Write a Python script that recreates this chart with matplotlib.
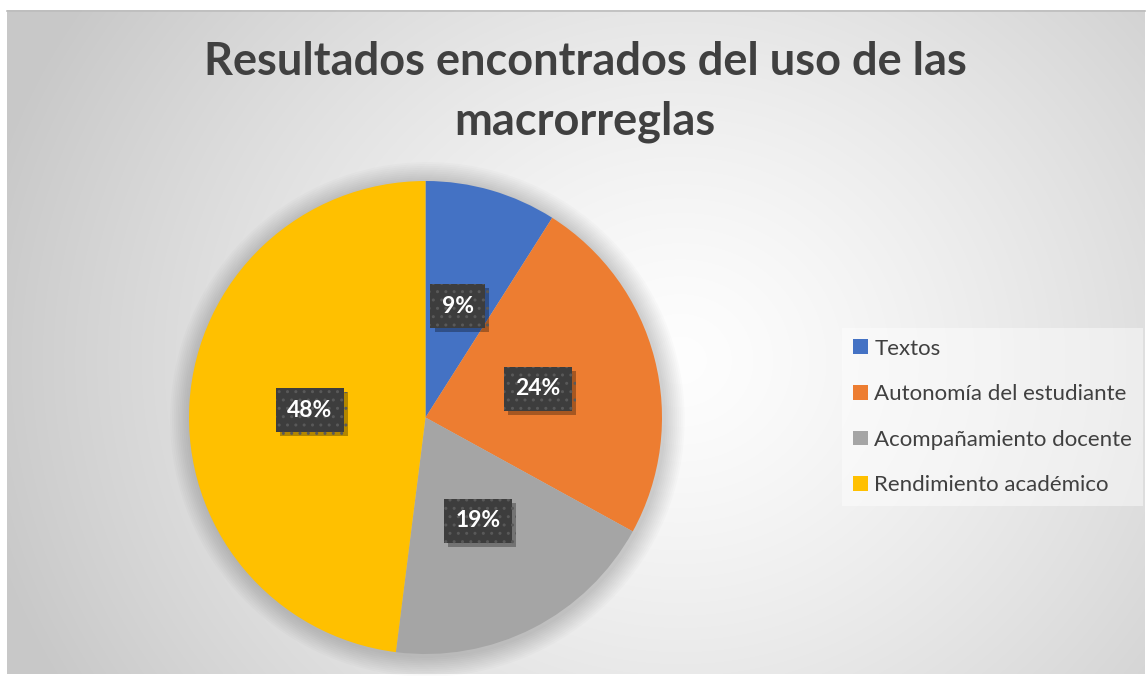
import numpy as np
import matplotlib.pyplot as plt
import matplotlib.patheffects as pe
from matplotlib.patches import Patch, Circle

# --- Data ---
TITLE = 'Resultados encontrados del uso de las\nmacrorreglas'
CATEGORIES = ['Textos', 'Autonomía del estudiante', 'Acompañamiento docente', 'Rendimiento académico']
VALUES = [9, 24, 19, 48]
COLORS = ['#4472C4', '#ED7D31', '#A5A5A5', '#FFC000']

W, H = 1148, 676
plt.rcParams['font.family'] = ['Lato', 'DejaVu Sans']

fig = plt.figure(figsize=(W / 100, H / 100), dpi=100)
fig.patch.set_facecolor('white')

# --- Background: radial grey gradient in chart area ---
bg = fig.add_axes([0, 0, 1, 1])
bg.set_xlim(0, W)
bg.set_ylim(H, 0)
bg.axis('off')
x0, x1, y0, y1 = 7, 1145, 10, 674
xx, yy = np.meshgrid(np.arange(x0, x1), np.arange(y0, y1))
dist = np.hypot(xx - 680, (yy - 360) * 1.1) / 720
grey = 0.995 - 0.21 * np.clip(dist, 0, 1) ** 1.3
bg.imshow(np.dstack([grey] * 3), extent=(x0, x1, y1, y0), aspect='auto', zorder=0)
bg.plot([x0, x1], [y0 + 0.5, y0 + 0.5], color='#bdbdbd', lw=1.2, zorder=1)

# --- Pie ---
cx, cy, r = 425.5, 417.5, 236.5
ax = fig.add_axes([(cx - r) / W, (H - cy - r) / H, 2 * r / W, 2 * r / H])

# soft shadow around the pie
for k in range(1, 12):
    ax.add_patch(Circle((0.008, -0.008), 1 + 0.008 * k, color='black', alpha=0.016,
                        lw=0, zorder=0, clip_on=False))

wedges, _ = ax.pie(VALUES, colors=COLORS, startangle=90, counterclock=False,
                   radius=1, wedgeprops=dict(linewidth=0), frame=False)
for w in wedges:
    w.set_zorder(2)
ax.set_xlim(-1, 1)
ax.set_ylim(-1, 1)
ax.set_aspect('auto')
ax.axis('off')

# data labels
total = sum(VALUES)
start = 90.0
for v in VALUES:
    ang = np.deg2rad(start - v / total * 180)
    start -= v / total * 360
    lx, ly = 0.49 * np.cos(ang), 0.49 * np.sin(ang)
    t = ax.text(lx, ly, f'{v}%', fontsize=16.5, fontweight='bold', color='white',
                ha='center', va='center', zorder=4,
                bbox=dict(boxstyle='square,pad=0.5', facecolor='#3d3d3d', edgecolor='#595959',
                          hatch='..', linewidth=0))
    t.get_bbox_patch().set_path_effects([
        pe.SimplePatchShadow(offset=(3, -3), shadow_rgbFace='black', alpha=0.3), pe.Normal()])

# --- Title ---
fig.text(585 / W, 1 - 92 / H, TITLE, ha='center', va='center', fontsize=32.5,
         fontweight='bold', color='#404040', linespacing=1.5)

# --- Legend ---
handles = [Patch(facecolor=c, edgecolor='none') for c in COLORS]
leg = fig.legend(handles, CATEGORIES, loc='center left',
                 bbox_to_anchor=(842 / W, 1 - 417 / H), fontsize=16,
                 frameon=True, fancybox=False, labelspacing=1.15,
                 handlelength=0.65, handleheight=0.65, handletextpad=0.3,
                 borderpad=0.5, borderaxespad=0)
leg.get_frame().set_facecolor('white')
leg.get_frame().set_alpha(0.45)
leg.get_frame().set_linewidth(0)
for t in leg.get_texts():
    t.set_color('#404040')

fig.savefig('out.png', dpi=100)
